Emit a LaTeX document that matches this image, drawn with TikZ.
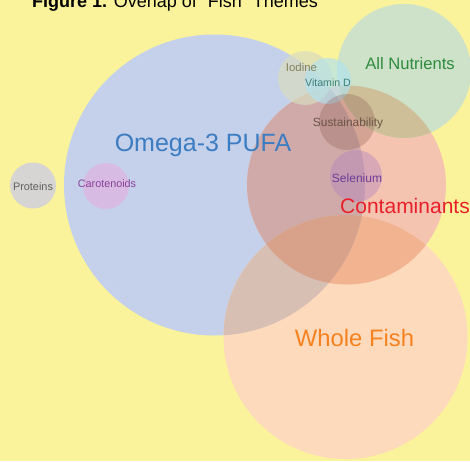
\documentclass[tikz,border=0pt]{standalone}
\usepackage{fontspec}
\setmainfont{Liberation Sans}
\definecolor{bgY}{HTML}{FAF39B}
\definecolor{cB}{HTML}{C5D1EA}
\definecolor{cR}{HTML}{F4C4B1}
\definecolor{cO}{HTML}{FDDABC}
\definecolor{cG}{HTML}{CDE2C8}
\definecolor{cBR}{HTML}{D0AAA8}
\definecolor{cBO}{HTML}{D7BFB3}
\definecolor{cRO}{HTML}{F2B390}
\definecolor{cBRO}{HTML}{D8A28A}
\definecolor{cGR}{HTML}{CEBF98}
\definecolor{tBlue}{HTML}{3B7CC2}
\definecolor{tGreen}{HTML}{2E8B3E}
\definecolor{tRed}{HTML}{E8202A}
\definecolor{tOrange}{HTML}{F5821F}
\definecolor{tIod}{HTML}{85835A}
\definecolor{tVit}{HTML}{3E7F78}
\definecolor{tSus}{HTML}{6A5448}
\definecolor{tSel}{HTML}{6E3C96}
\definecolor{tCar}{HTML}{8A3F9A}
\definecolor{tPro}{HTML}{606060}
\definecolor{fIod}{HTML}{D9DCC0}
\definecolor{fVit}{HTML}{B0E2F0}
\definecolor{fSus}{HTML}{8B5A50}
\definecolor{fSel}{HTML}{B080C0}
\definecolor{fCar}{HTML}{E6AADC}
\definecolor{fPro}{HTML}{D6D5D3}
\tikzset{
  lbl/.style={inner sep=0pt, font=\fontsize{#1}{#1}\selectfont},
}
\begin{document}
\begin{tikzpicture}[x=1pt,y=-1pt]
\useasboundingbox (0,0) rectangle (470,461);
\fill[bgY] (0,0) rectangle (470,461);
\coordinate (B) at (214.5,185);
\coordinate (R) at (346.5,185);
\coordinate (O) at (345.5,337);
\coordinate (G) at (404,71);
% big circles
\fill[cB] (B) circle[radius=150.5];
\fill[cR] (R) circle[radius=99.5];
\fill[cO] (O) circle[radius=122];
\fill[cG] (G) circle[radius=67];
\begin{scope}
  \clip (R) circle[radius=99.5];
  \fill[cRO] (O) circle[radius=122];
  \fill[cGR] (G) circle[radius=67];
\end{scope}
\begin{scope}
  \clip (B) circle[radius=150.5];
  \fill[cBR] (R) circle[radius=99.5];
  \fill[cBO] (O) circle[radius=122];
  \clip (R) circle[radius=99.5];
  \fill[cBRO] (O) circle[radius=122];
\end{scope}
% small circles
\fill[fPro] (33,185.5) circle[radius=23];
\fill[fCar, fill opacity=0.55] (106,186) circle[radius=23];
\fill[fIod, fill opacity=0.7] (305,78) circle[radius=27];
\fill[fVit, fill opacity=0.65] (328,81) circle[radius=23];
\fill[fSus, fill opacity=0.3] (347,122) circle[radius=28];
\fill[fSel, fill opacity=0.4] (356,176) circle[radius=26];
% labels
\node[lbl=18, anchor=base west] (title) at (32,7) {\textbf{Figure 1.} Overlap of "Fish" Themes};
\node[lbl=25, text=tBlue] (omega) at (203,145) {Omega-3 PUFA};
\node[lbl=16.6, text=tGreen] (alln) at (410,64) {All Nutrients};
\node[lbl=21, text=tRed] (cont) at (405,206) {Contaminants};
\node[lbl=23.8, text=tOrange] (whole) at (354.5,338) {Whole Fish};
\node[lbl=11.4, text=tIod] (iod) at (301.5,67) {Iodine};
\node[lbl=10.6, text=tVit] (vit) at (328,83) {Vitamin D};
\node[lbl=11.9, text=tSus] (sus) at (348,123) {Sustainability};
\node[lbl=12, text=tSel] (sel) at (357,178) {Selenium};
\node[lbl=10.8, text=tCar] (car) at (107,184) {Carotenoids};
\node[lbl=10.9, text=tPro] (pro) at (33,187) {Proteins};
\end{tikzpicture}
\end{document}
